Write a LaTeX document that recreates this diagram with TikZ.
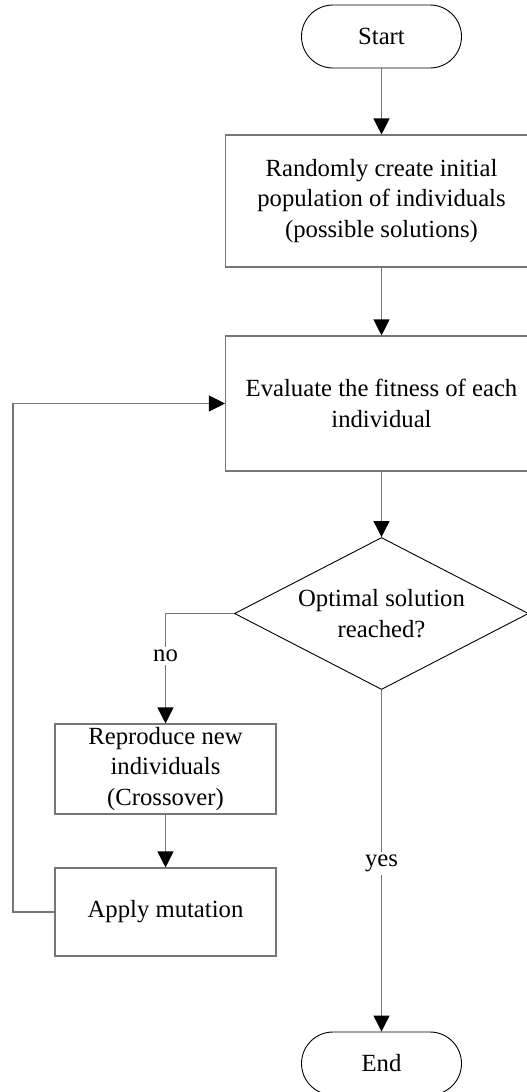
\documentclass[tikz,border=0pt]{standalone}
\usepackage{fontspec}
\setmainfont{Liberation Serif}
\usetikzlibrary{shapes.geometric,arrows.meta}
\definecolor{linegray}{RGB}{118,118,118}
\begin{document}
\begin{tikzpicture}[x=1pt,y=-1pt,
  every node/.style={font=\fontsize{24.7}{30.5}\selectfont},
  term/.style={draw=black,line width=0.9pt,rounded corners=31.5pt,minimum width=160pt,minimum height=63pt,inner sep=0pt},
  procbox/.style={draw=linegray,line width=1.1pt,align=center,inner sep=0pt},
  decision/.style={draw=black,line width=0.9pt,diamond,shape aspect=2,align=center,inner sep=0pt,minimum width=294pt,minimum height=152pt},
  flow/.style={draw=linegray,line width=1.1pt,-{Triangle[length=16pt,width=16pt,color=black]}},
  lbl/.style={fill=white,inner sep=3pt}]
\useasboundingbox (0,0) rectangle (527,1092);
\node[term] (start) at (381.5,36.5) {Start};
\node[procbox,minimum width=312pt,minimum height=132pt] (init) at (381.5,201) {Randomly create initial\\population of individuals\\(possible solutions)};
\node[procbox,minimum width=312pt,minimum height=135pt] (eval) at (381.5,403.5) {Evaluate the fitness of each\\individual};
\node[decision] (dec) at (381.5,613.5) {Optimal solution\\reached?};
\node[procbox,minimum width=221pt,minimum height=90pt] (repro) at (165.5,769) {Reproduce new\\individuals\\(Crossover)};
\node[procbox,minimum width=221pt,minimum height=88pt] (mut) at (165.5,912) {Apply mutation};
\node[term] (end) at (381.5,1063.5) {End};
\coordinate (loop) at (13,912);
\draw[flow] (start) -- (init);
\draw[flow] (init) -- (eval);
\draw[flow] (eval) -- (dec);
\draw[flow] (dec.west) -| node[lbl,pos=0.692] {no} (repro.north);
\draw[flow] (dec.south) -- node[lbl,pos=0.507] {yes} (end.north);
\draw[flow] (repro) -- (mut);
\draw[flow] (mut.west) -- (loop) |- (eval.west);
\end{tikzpicture}
\end{document}
